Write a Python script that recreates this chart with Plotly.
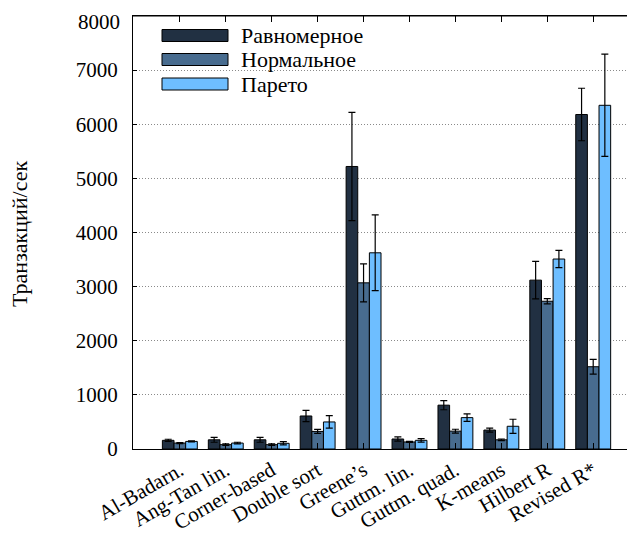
import plotly.graph_objects as go

categories = ["Al-Badarn.", "Ang-Tan lin.", "Corner-based", "Double sort", "Greene’s",
              "Guttm. lin.", "Guttm. quad.", "K-means", "Hilbert R", "Revised R*"]
series_names = ["Равномерное", "Нормальное", "Парето"]

uniform = [160, 170, 170, 610, 5220, 185, 810, 350, 3120, 6180]
uniform_err = [20, 45, 45, 105, 1000, 40, 85, 37, 345, 485]
normal = [110, 80, 80, 325, 3070, 130, 330, 170, 2730, 1520]
normal_err = [10, 15, 15, 37, 350, 10, 35, 15, 50, 135]
pareto = [140, 110, 105, 500, 3625, 160, 580, 420, 3510, 6350]
pareto_err = [10, 15, 30, 115, 700, 33, 70, 130, 160, 945]

y_ticks = [0, 1000, 2000, 3000, 4000, 5000, 6000, 7000, 8000]
y_tick_labels = ["0", "1000", "2000", "3000", "4000", "5000", "6000", "7000", "8000"]
y_title = "Транзакций/сек"

colors = ["#213042", "#486c8f", "#6ebeff"]
FONT = "Liberation Serif, DejaVu Serif, serif"

# page body has an 8px margin; work in page pixels and shift
OFF = 8
W, H = 635 - OFF, 533 - OFF
L, R, T, B = 133 - OFF, 635 - OFF, 16 - OFF, 449 - OFF

def px(x):
    return (x - OFF - L) / (R - L)

def py(y):
    return (B - (y - OFF)) / (B - T)

fig = go.Figure()
for name, vals, errs, col in zip(series_names, [uniform, normal, pareto],
                                 [uniform_err, normal_err, pareto_err], colors):
    fig.add_trace(go.Bar(
        x=categories, y=vals, name=name,
        marker=dict(color=col, line=dict(color="black", width=1)),
        error_y=dict(type="data", array=errs, color="black", thickness=1.2, width=3.5),
        showlegend=False,
    ))

shapes = [dict(type="rect", xref="paper", yref="paper", x0=px(147), x1=px(562),
               y0=py(97), y1=py(19), fillcolor="white", line=dict(width=0), layer="between"),
          dict(type="line", xref="paper", yref="paper", x0=0, x1=1, y0=1, y1=1,
               line=dict(color="black", width=1), layer="above")]
annotations = []
rows = [35.5, 59.5, 84]
for name, col, yc in zip(series_names, colors, rows):
    shapes.append(dict(type="rect", xref="paper", yref="paper", x0=px(162), x1=px(228),
                       y0=py(yc + 6), y1=py(yc - 6), fillcolor=col,
                       line=dict(color="black", width=1), layer="above"))
    annotations.append(dict(text=name, xref="paper", yref="paper", x=px(239), y=py(yc),
                            xanchor="left", yanchor="middle", showarrow=False,
                            font=dict(family=FONT, size=22, color="black")))
annotations.append(dict(text=y_title, xref="paper", yref="paper", x=px(19), y=py(234),
                        xanchor="center", yanchor="middle", textangle=-90, showarrow=False,
                        font=dict(family=FONT, size=22, color="black")))
# top tick label placed fully inside the figure so it is not clipped
annotations.append(dict(text=y_tick_labels[-1], xref="paper", yref="paper", x=px(122),
                        y=py(OFF), xanchor="right", yanchor="top", showarrow=False,
                        font=dict(family=FONT, size=21, color="black")))

fig.update_layout(
    template="none",
    width=W, height=H,
    margin=dict(l=L, r=W - R, t=T, b=H - B, pad=0, autoexpand=False),
    paper_bgcolor="white", plot_bgcolor="white",
    barmode="group", bargap=0.24, bargroupgap=0,
    font=dict(family=FONT, size=21, color="black"),
    shapes=shapes, annotations=annotations,
    xaxis=dict(range=[-1.02, 9.91], showline=True, linecolor="black", linewidth=1,
               mirror="allticks", ticks="inside", ticklen=6, tickcolor="black",
               tickangle=-30, showgrid=False, automargin=False,
               tickfont=dict(family=FONT, size=21, color="black")),
    yaxis=dict(range=[0, 8000], tickvals=y_ticks,
               ticktext=y_tick_labels[:-1] + [""], showline=True, linecolor="black",
               linewidth=1, ticks="inside", ticklen=4, tickcolor="black",
               showgrid=True, gridcolor="#8a8a8a", griddash="1px,2px", gridwidth=1,
               zeroline=False, automargin=False,
               tickfont=dict(family=FONT, size=21, color="black"), ticklabelstandoff=10),
)

fig.write_html("out.html")
